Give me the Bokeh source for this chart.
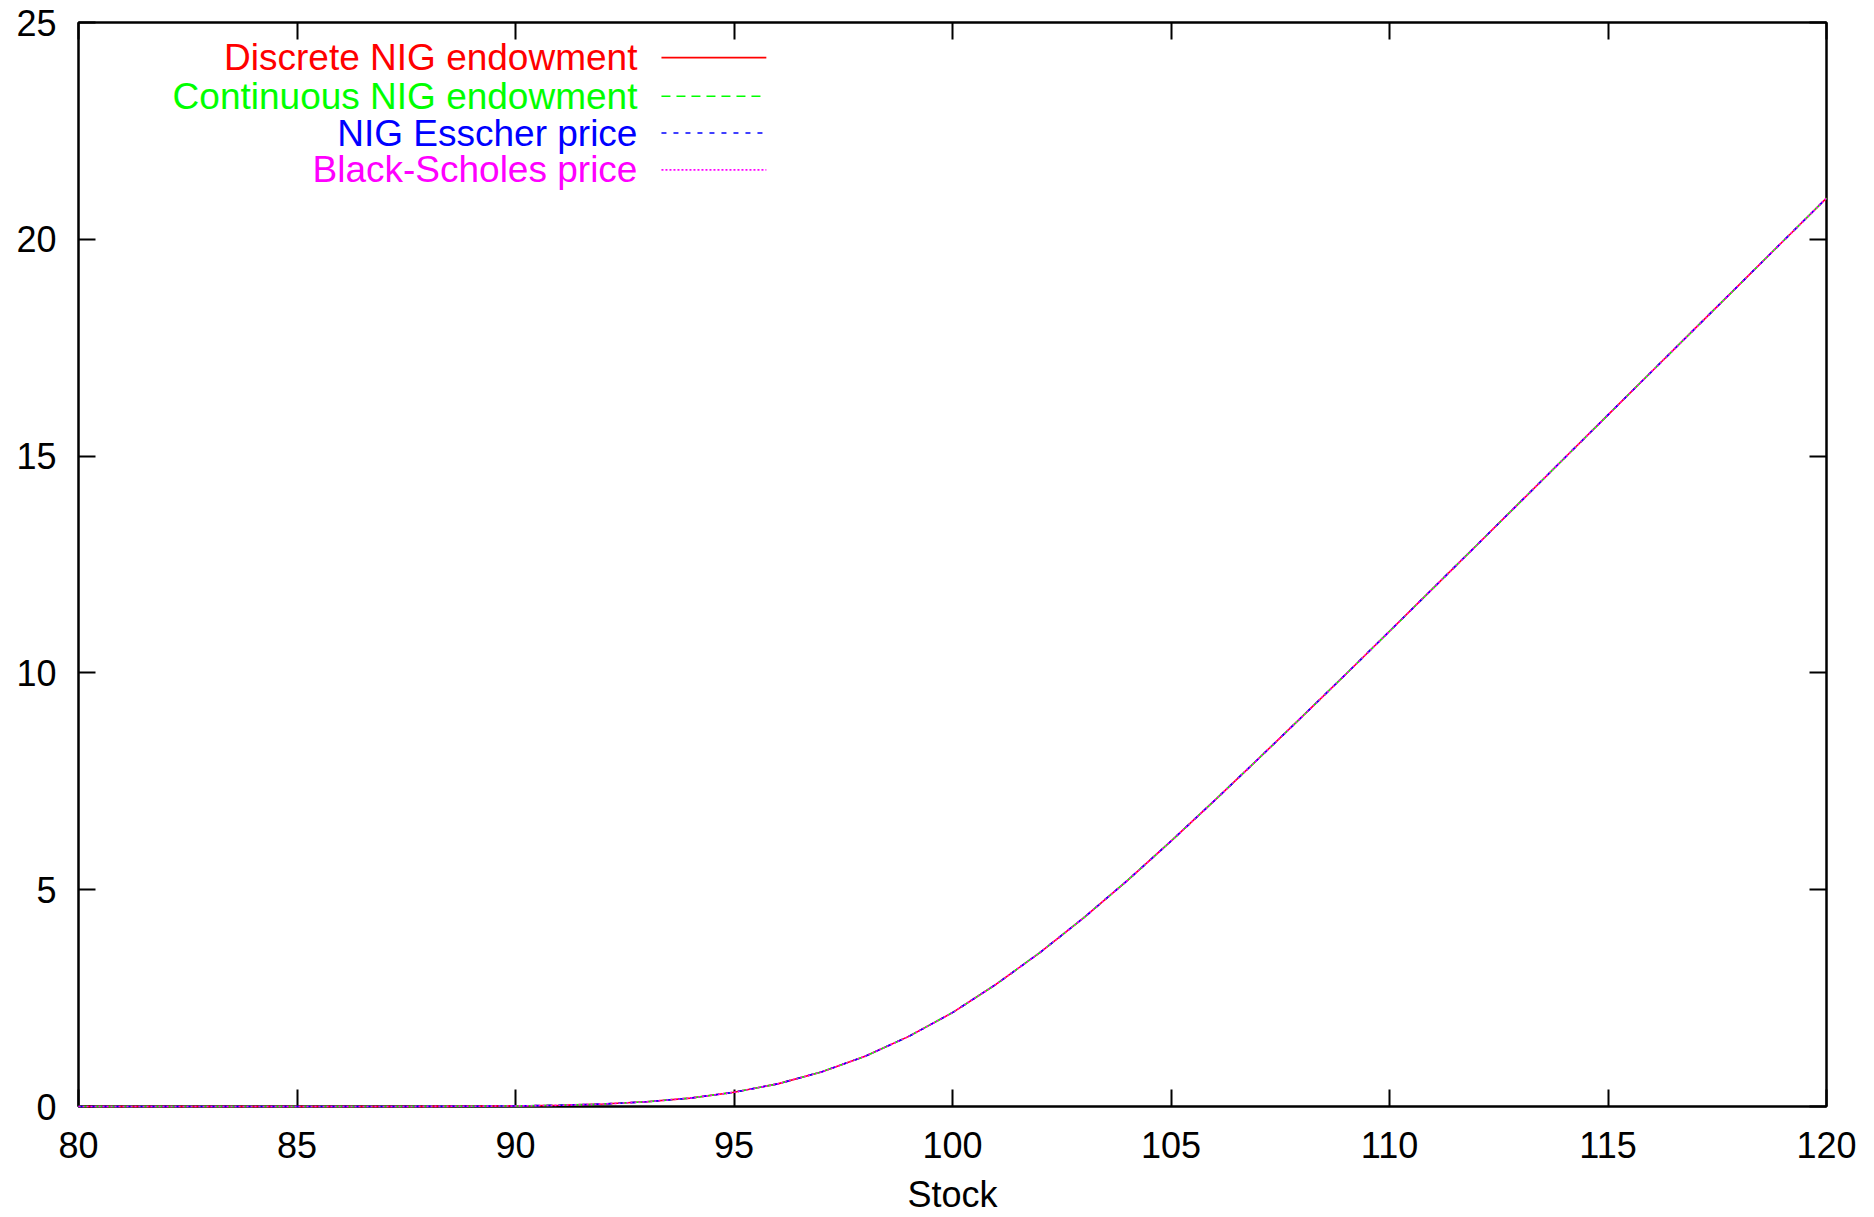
from bokeh.plotting import figure
from bokeh.models import Range1d, LinearAxis, SingleIntervalTicker, Label, Arrow, CustomJSTickFormatter
from bokeh.embed import file_html
from bokeh.resources import INLINE

# ---------------- data ----------------
stock = [80, 81, 82, 83, 84, 85, 86, 87, 88, 89,
         90, 91, 92, 93, 94, 95, 96, 97, 98, 99,
         100, 101, 102, 103, 104, 105, 106, 107, 108, 109,
         110, 111, 112, 113, 114, 115, 116, 117, 118, 119, 120]

discrete_nig = [0.0, 0.0, 0.0, 0.0, 0.0, 0.0, 0.0, 0.001, 0.002, 0.006,
                0.013, 0.028, 0.057, 0.109, 0.193, 0.327, 0.522, 0.796, 1.158, 1.617,
                2.165, 2.82, 3.55, 4.35, 5.21, 6.12, 7.06, 8.02, 8.99, 9.97,
                10.96, 11.955, 12.95, 13.95, 14.95, 15.95, 16.95, 17.95, 18.95, 19.95, 20.95]
continuous_nig = [0.0, 0.0, 0.0, 0.0, 0.0, 0.0, 0.0, 0.001, 0.002, 0.006,
                  0.013, 0.028, 0.057, 0.109, 0.193, 0.327, 0.522, 0.796, 1.158, 1.617,
                  2.165, 2.82, 3.55, 4.35, 5.21, 6.12, 7.06, 8.02, 8.99, 9.97,
                  10.96, 11.955, 12.95, 13.95, 14.95, 15.95, 16.95, 17.95, 18.95, 19.95, 20.95]
nig_esscher = [0.0, 0.0, 0.0, 0.0, 0.0, 0.0, 0.0, 0.001, 0.002, 0.006,
               0.013, 0.028, 0.057, 0.109, 0.193, 0.327, 0.522, 0.796, 1.158, 1.617,
               2.165, 2.82, 3.55, 4.35, 5.21, 6.12, 7.06, 8.02, 8.99, 9.97,
               10.96, 11.955, 12.95, 13.95, 14.95, 15.95, 16.95, 17.95, 18.95, 19.95, 20.95]
black_scholes = [0.0, 0.0, 0.0, 0.0, 0.0, 0.0, 0.0, 0.001, 0.002, 0.006,
                 0.013, 0.028, 0.057, 0.109, 0.193, 0.327, 0.522, 0.796, 1.158, 1.617,
                 2.165, 2.82, 3.55, 4.35, 5.21, 6.12, 7.06, 8.02, 8.99, 9.97,
                 10.96, 11.955, 12.95, 13.95, 14.95, 15.95, 16.95, 17.95, 18.95, 19.95, 20.95]

series_names = ["Discrete NIG endowment", "Continuous NIG endowment",
                "NIG Esscher price", "Black-Scholes price"]
series_values = [discrete_nig, continuous_nig, nig_esscher, black_scholes]
series_colors = ["#ff0000", "#00ff00", "#0000ff", "#ff00ff"]
series_dashes = ["solid", "9 6", "5 7", "2 2"]

x_title = "Stock"
x_min, x_max = 80, 120
y_min, y_max = 0, 25
tick_step = 5

FONT = "Liberation Sans"

# ---------------- figure ----------------
p = figure(width=1870, height=1217,
           x_range=Range1d(x_min, x_max), y_range=Range1d(y_min, y_max),
           output_backend="svg", toolbar_location=None,
           min_border_left=78, min_border_right=44,
           min_border_top=22, min_border_bottom=111)

p.background_fill_color = "white"
p.border_fill_color = "white"
p.outline_line_color = "black"
p.outline_line_width = 2
p.xgrid.visible = False
p.ygrid.visible = False

def style_axis(ax, show_labels):
    ax.ticker = SingleIntervalTicker(interval=tick_step, num_minor_ticks=0)
    ax.major_tick_in = 17
    ax.major_tick_out = 0
    ax.minor_tick_in = 0
    ax.minor_tick_out = 0
    ax.major_tick_line_color = "black"
    ax.major_tick_line_width = 2
    ax.axis_line_color = "black"
    ax.axis_line_width = 2
    ax.major_label_text_font = FONT
    ax.major_label_text_color = "black"
    ax.major_label_text_font_size = "36px"
    if not show_labels:
        ax.formatter = CustomJSTickFormatter(code="return '';")
        ax.major_label_standoff = 0

style_axis(p.xaxis[0], True)
style_axis(p.yaxis[0], True)
p.xaxis[0].major_label_standoff = 25
p.yaxis[0].major_label_standoff = 22
p.xaxis[0].axis_label = x_title
p.xaxis[0].axis_label_text_font = FONT
p.xaxis[0].axis_label_text_font_size = "36px"
p.xaxis[0].axis_label_text_font_style = "normal"
p.xaxis[0].axis_label_text_color = "black"
p.xaxis[0].axis_label_standoff = 13

top_axis = LinearAxis()
right_axis = LinearAxis()
style_axis(top_axis, False)
style_axis(right_axis, False)
p.add_layout(top_axis, "above")
p.add_layout(right_axis, "right")

# ---------------- curves ----------------
for name, vals, col, dash in zip(series_names, series_values, series_colors, series_dashes):
    p.line(stock, vals, line_color=col, line_width=1.6, line_dash=dash, level="overlay")

# ---------------- legend (gnuplot style: text right-aligned, sample on right) ----------------
legend_text_x = 92.79
legend_sample_x0 = 93.34
legend_sample_x1 = 95.74
legend_rows_y = [24.19, 23.30, 22.45, 21.60]

for name, col, dash, yy in zip(series_names, series_colors, series_dashes, legend_rows_y):
    p.add_layout(Label(x=legend_text_x, y=yy, text=name, text_align="right",
                       text_baseline="middle", text_color=col,
                       text_font=FONT, text_font_size="37px"))
    p.add_layout(Arrow(x_start=legend_sample_x0, y_start=yy,
                       x_end=legend_sample_x1, y_end=yy, end=None,
                       line_color=col, line_width=1.6, line_dash=dash))

open("out.html", "w").write(file_html(p, INLINE))
